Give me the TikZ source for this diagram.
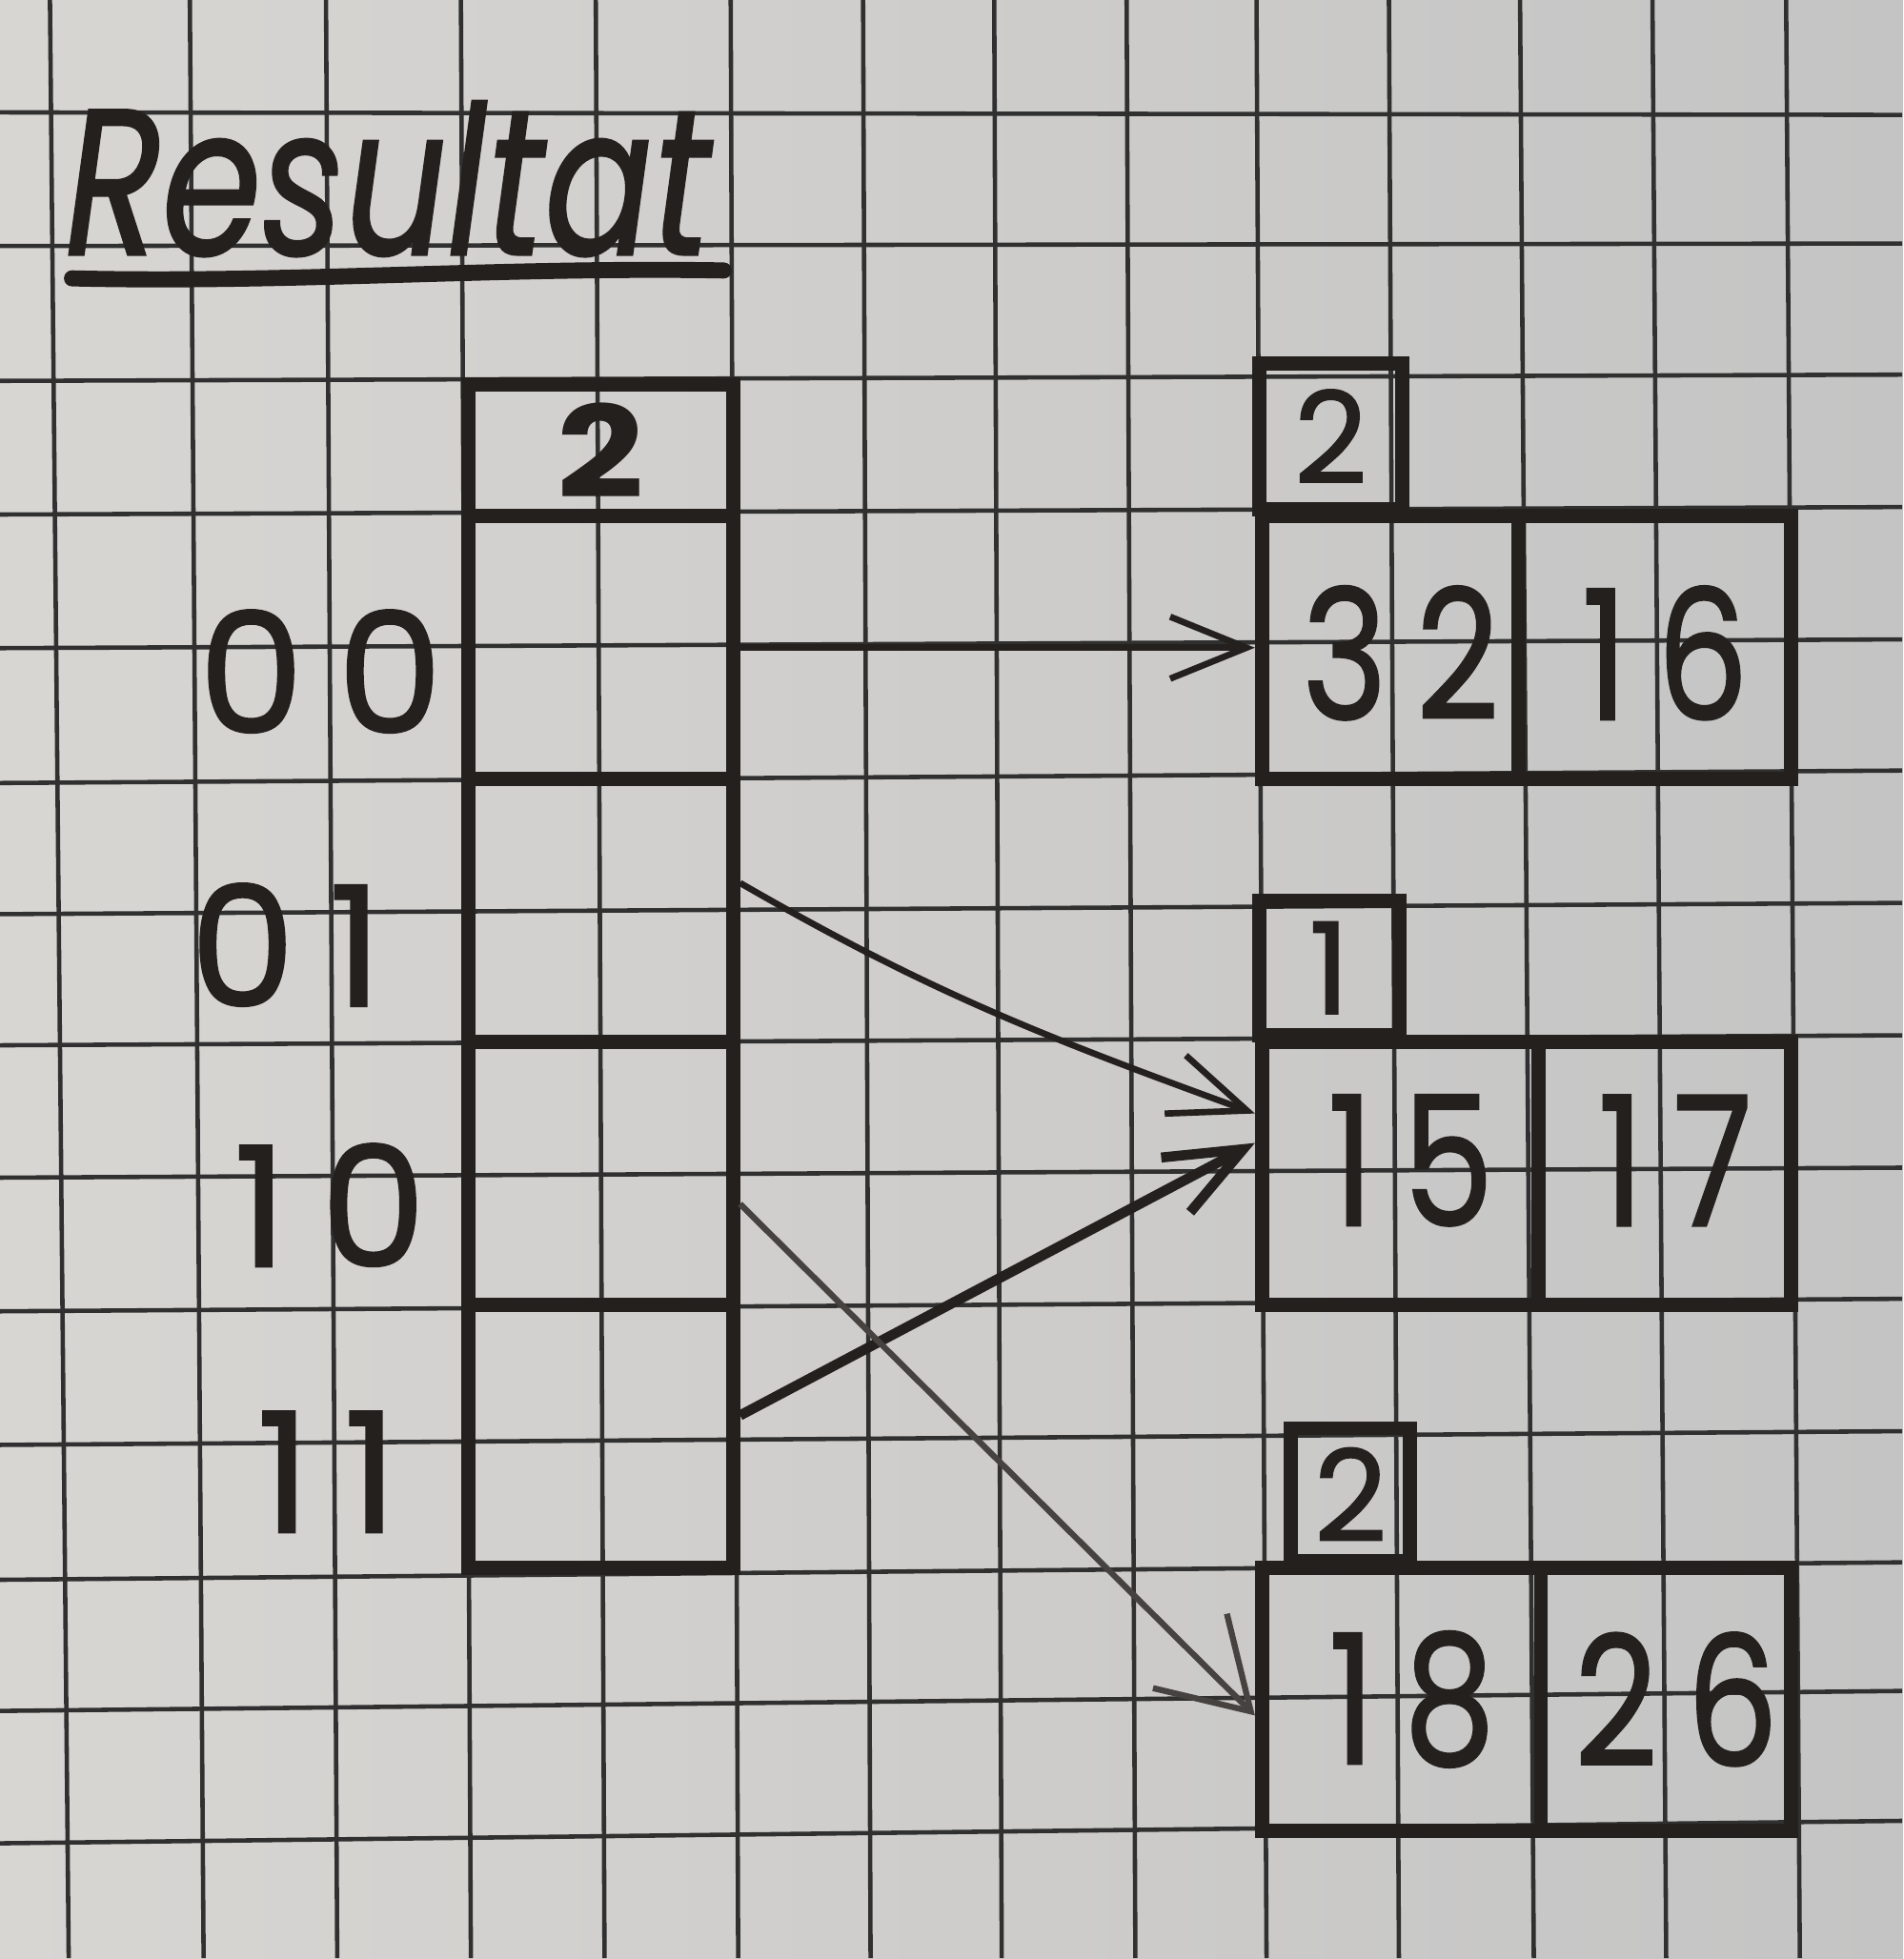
\documentclass[tikz,border=0pt]{standalone}
\usepackage{fontspec}
\setmainfont{Poppins}
\newfontfamily\marker[FakeBold=1.2]{Poppins}
\newfontfamily\markerwide[FakeBold=1.2, LetterSpace=20]{Poppins}
\usetikzlibrary{arrows.meta}

\definecolor{ink}{RGB}{36,32,29}
\definecolor{rule}{RGB}{48,48,48}
\definecolor{pencil}{RGB}{70,66,64}
\definecolor{paperlight}{RGB}{216,214,211}
\definecolor{paperdark}{RGB}{196,196,196}

\tikzset{
  gridline/.style={draw=rule, line width=1.3pt},
  box/.style={draw=ink, text=ink, line width=4.2pt, inner sep=0pt},
  dirhead/.style={box, minimum width=2.775cm, minimum height=1.38cm,
    font=\fontsize{38}{38}\selectfont\bfseries},
  dircell/.style={box, minimum width=2.775cm, minimum height=2.759cm},
  bucket/.style={box, minimum height=2.759cm},
  value/.style={text=ink, inner sep=0pt, xscale=0.8,
    font=\markerwide\fontsize{54}{54}\selectfont},
  depth/.style={box, anchor=south, font=\marker\fontsize{38}{38}\selectfont},
  binlabel/.style={text=ink, font=\markerwide\fontsize{50}{50}\selectfont},
  ptr/.style={draw=ink, line width=1.9pt,
    -{Straight Barb[length=0.8cm, width=0.65cm]}},
}

\begin{document}
\begin{tikzpicture}
  \useasboundingbox (0,0) rectangle (19.97,-20.56);
  \clip (0,0) rectangle (19.97,-20.56);
  \shade[left color=paperlight, right color=paperdark]
    (0,0) rectangle (19.97,-20.56);

  % squared paper, measured line by line
  \begin{scope}[x=0.013113cm, y=-0.013113cm]
    \foreach \xa/\xb in {40/55, 152/163, 261/270, 369/377, 477/484, 585/591,
      691/697, 796/802, 902/909, 1006/1014, 1112/1120, 1217/1228, 1323/1334,
      1430/1441}
      \draw[gridline] (\xa,0) -- (\xb,1568);
    \foreach \ya/\yb in {90/92, 197/195, 305/300, 412/406, 519/512, 627/617,
      732/723, 837/829, 943/935, 1050/1040, 1157/1146, 1265/1251, 1370/1354,
      1476/1458}
      \draw[gridline] (0,\ya) -- (1523,\yb);
  \end{scope}

  \begin{scope}[shift={(0.7553,-1.2798)}, x=1.3874cm, y=-1.3795cm]
    % title
    \node[text=ink, font=\marker\fontsize{62}{62}\selectfont\itshape,
      xscale=0.77, anchor=base] (title) at (2.39,1.01) {Resultat};
    \draw[ink, line width=4.8pt, line cap=round]
      (0.0,1.19) .. controls (1.6,1.23) and (3.3,1.10) .. (4.93,1.13);

    % directory
    \node[dirhead] (gd) at (4,2.5) {\scalebox{1.2}[1]{2}\hspace{0.5cm}};
    \foreach \lab/\yy/\lx/\ly in {00/4/1.88/4.18, 01/6/1.62/6.26,
      10/8/1.95/8.24, 11/10/1.93/10.27} {
      \node[dircell] (d\lab) at (4,\yy) {};
      \node[binlabel] (l\lab) at (\lx,\ly) {\lab};
    }

    % buckets
    \foreach \b/\yy/\dv/\hx/\hw/\hh/\dep/\vl/\vr/\dy in
      {1/4/10.94/9.52/1.50/1.53/2/32/16/0.04,
       2/8/11.09/9.51/1.47/1.41/1/15/17/-0.1,
       3/12/11.11/9.67/1.25/1.39/2/18/26/0} {
      \pgfmathsetmacro\ctrL{(9+\dv)/2}
      \pgfmathsetmacro\ctrR{(13+\dv)/2}
      \pgfmathsetmacro\wdL{(\dv-9)*1.3874}
      \pgfmathsetmacro\wdR{(13-\dv)*1.3874}
      \node[bucket, minimum width=\wdL cm] (bl\b) at (\ctrL,\yy) {};
      \node[bucket, minimum width=\wdR cm] (br\b) at (\ctrR,\yy) {};
      \node[value] (vl\b) at ({\ctrL+0.08},{\yy+\dy}) {\vl};
      \node[value] (vr\b) at ({\ctrR+0.08},{\yy+\dy}) {\vr};
      \node[depth, minimum width=\hw cm, minimum height=\hh cm] (h\b)
        at (\hx,{\yy-1}) {\dep};
    }

    % pointers
    \draw[ptr] (d00.east) -- (bl1.west);
    \draw[ptr] ([yshift=2.9mm]d01.east) to[out=-30, in=160]
      ([yshift=6.3mm]bl2.west);
    \draw[ptr, line width=3pt] ([yshift=2.2mm]d11.east) --
      ([yshift=3.2mm]bl2.west);
    \draw[ptr, draw=pencil, line width=1.8pt,
      -{Straight Barb[length=0.9cm, width=1.1cm]}]
      ([yshift=-3.2mm]d10.east) -- ([yshift=-1.7mm]bl3.west);
  \end{scope}
\end{tikzpicture}
\end{document}
